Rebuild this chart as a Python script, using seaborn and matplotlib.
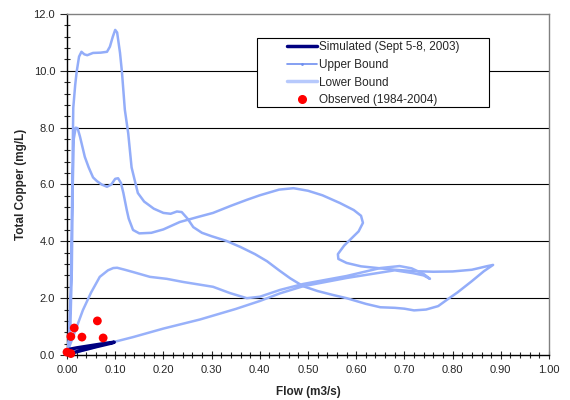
import numpy as np
import pandas as pd
import matplotlib
matplotlib.use("Agg")
import matplotlib.pyplot as plt
import seaborn as sns
from matplotlib.lines import Line2D
from matplotlib.patches import Rectangle
from matplotlib.ticker import MultipleLocator, FormatStrFormatter

# -----------------------------
# Data
# -----------------------------
# Upper bound hysteresis loop (flow m3/s, copper mg/L)
upper_x = [0.0, 0.004, 0.008, 0.011, 0.013, 0.017, 0.020, 0.025, 0.030, 0.036, 0.042, 0.054,
           0.070, 0.083, 0.089, 0.095, 0.100, 0.104, 0.110, 0.114, 0.120, 0.127, 0.134, 0.147,
           0.160, 0.180, 0.200, 0.215, 0.228, 0.238, 0.250, 0.262, 0.280, 0.300, 0.330, 0.360,
           0.390, 0.415, 0.440, 0.463, 0.490, 0.520, 0.550, 0.580, 0.620, 0.650, 0.680, 0.700,
           0.720, 0.745, 0.770, 0.788, 0.810, 0.840, 0.865, 0.884, 0.870, 0.840, 0.800, 0.760,
           0.720, 0.680, 0.650, 0.610, 0.580, 0.563, 0.562, 0.575, 0.590, 0.605, 0.614, 0.610,
           0.595, 0.566, 0.530, 0.500, 0.470, 0.440, 0.400, 0.373, 0.340, 0.303, 0.270, 0.234,
           0.200, 0.175, 0.150, 0.137, 0.128, 0.124, 0.117, 0.112, 0.106, 0.100, 0.092, 0.083,
           0.072, 0.062, 0.054, 0.045, 0.037, 0.027, 0.022, 0.018, 0.014, 0.012, 0.010, 0.007,
           0.003, 0.0]
upper_y = [0.0, 0.6, 2.5, 6.0, 8.7, 9.5, 9.96, 10.5, 10.67, 10.58, 10.55, 10.63,
           10.64, 10.67, 10.85, 11.2, 11.44, 11.35, 10.63, 9.96, 8.63, 7.8, 6.6, 5.7,
           5.4, 5.15, 5.0, 4.97, 5.05, 5.03, 4.8, 4.5, 4.3, 4.18, 4.02, 3.8,
           3.55, 3.3, 2.98, 2.7, 2.42, 2.25, 2.12, 2.0, 1.8, 1.68, 1.66, 1.63,
           1.57, 1.6, 1.72, 1.94, 2.2, 2.6, 2.95, 3.17, 3.12, 3.0, 2.94, 2.93,
           2.95, 3.0, 3.05, 3.12, 3.24, 3.38, 3.55, 3.85, 4.1, 4.35, 4.65, 4.9,
           5.1, 5.35, 5.62, 5.78, 5.87, 5.82, 5.62, 5.46, 5.25, 5.0, 4.85, 4.68,
           4.42, 4.3, 4.28, 4.4, 4.8, 5.1, 5.7, 6.05, 6.22, 6.2, 6.0, 5.92,
           6.0, 6.12, 6.25, 6.6, 6.97, 7.68, 7.98, 8.0, 7.6, 6.0, 3.0, 1.0,
           0.2, 0.0]

# Lower bound hysteresis loop
lower_x = [0.0, 0.005, 0.015, 0.033, 0.050, 0.068, 0.085, 0.096, 0.104, 0.120, 0.137, 0.172,
           0.207, 0.241, 0.303, 0.338, 0.373, 0.400, 0.442, 0.490, 0.580, 0.650, 0.690, 0.715,
           0.740, 0.753, 0.740, 0.718, 0.680, 0.580, 0.490, 0.442, 0.400, 0.350, 0.276, 0.200,
           0.137, 0.100, 0.050, 0.010, 0.0]
lower_y = [0.0, 0.3, 0.75, 1.58, 2.2, 2.75, 2.98, 3.06, 3.07, 3.0, 2.92, 2.75,
           2.68, 2.57, 2.4, 2.18, 2.0, 2.05, 2.29, 2.5, 2.78, 3.06, 3.13, 3.05,
           2.85, 2.68, 2.8, 2.88, 2.98, 2.71, 2.42, 2.17, 1.9, 1.62, 1.25, 0.93,
           0.63, 0.47, 0.24, 0.06, 0.0]

# Simulated event (Sept 5-8, 2003)
sim_x = [0.0, 0.005, 0.020, 0.050, 0.080, 0.098, 0.090, 0.060, 0.030, 0.010, 0.003, 0.0]
sim_y = [0.05, 0.20, 0.25, 0.33, 0.41, 0.45, 0.41, 0.29, 0.16, 0.07, 0.03, 0.05]

# Observed (1984-2004)
obs_x = [0.0, 0.008, 0.008, 0.015, 0.031, 0.063, 0.075]
obs_y = [0.10, 0.05, 0.65, 0.95, 0.63, 1.20, 0.60]

# -----------------------------
# Plot
# -----------------------------
sns.set_style("white")
plt.rcParams["font.family"] = ["Liberation Sans", "DejaVu Sans"]

fig = plt.figure(figsize=(5.7, 4.0), dpi=100)
ax = fig.add_axes([67 / 570, 45 / 400, 482 / 570, 341 / 400])

up_df = pd.DataFrame({"flow": upper_x, "cu": upper_y})
lo_df = pd.DataFrame({"flow": lower_x, "cu": lower_y})
sim_df = pd.DataFrame({"flow": sim_x, "cu": sim_y})
obs_df = pd.DataFrame({"flow": obs_x, "cu": obs_y})

sns.lineplot(data=up_df, x="flow", y="cu", sort=False, estimator=None, ax=ax,
             color="#93adf9", lw=1.8, zorder=3)
sns.lineplot(data=lo_df, x="flow", y="cu", sort=False, estimator=None, ax=ax,
             color="#98b1fa", lw=1.8, zorder=3)
sns.lineplot(data=sim_df, x="flow", y="cu", sort=False, estimator=None, ax=ax,
             color="#000080", lw=2.5, zorder=4)
sns.scatterplot(data=obs_df, x="flow", y="cu", ax=ax, color="#ff0000", s=40,
                edgecolor="none", zorder=5, clip_on=False)

ax.set_xlim(0, 1.0)
ax.set_ylim(0, 12.0)

# horizontal gridlines
yt = np.arange(0, 12.01, 2.0)
for v in yt[1:-1]:
    ax.axhline(v, color="black", lw=0.8, zorder=1)

ax.xaxis.set_major_locator(MultipleLocator(0.1))
ax.xaxis.set_minor_locator(MultipleLocator(0.02))
ax.yaxis.set_major_locator(MultipleLocator(2.0))
ax.yaxis.set_minor_locator(MultipleLocator(0.4))
ax.xaxis.set_major_formatter(FormatStrFormatter("%.2f"))
ax.yaxis.set_major_formatter(FormatStrFormatter("%.1f"))

ax.tick_params(axis="x", which="major", direction="inout", length=6, width=0.8,
               labelsize=8, pad=4, bottom=True)
ax.tick_params(axis="x", which="minor", direction="inout", length=4, width=0.8, bottom=True)
ax.tick_params(axis="y", which="major", direction="out", length=5, width=0.8,
               labelsize=8, left=True)
ax.tick_params(axis="y", which="minor", direction="inout", length=4, width=0.8, left=True)

for side in ["left", "bottom"]:
    ax.spines[side].set_color("black")
    ax.spines[side].set_linewidth(1.0)
for side in ["top", "right"]:
    ax.spines[side].set_color("#808080")
    ax.spines[side].set_linewidth(1.0)

ax.set_xlabel("Flow (m3/s)", fontsize=8.5, fontweight="bold", labelpad=8)
ax.set_ylabel("Total Copper (mg/L)", fontsize=8.5, fontweight="bold", labelpad=5)

# legend box drawn separately (Excel-style wide padding)
ax.add_patch(Rectangle((190 / 482, (355 - 107) / 341), 232 / 482, 69 / 341,
                       transform=ax.transAxes, facecolor="white", edgecolor="black",
                       lw=0.8, zorder=6))

handles = [
    Line2D([], [], color="#000080", lw=2.5),
    Line2D([], [], color="#6f8ff0", lw=1.2, marker=".", markersize=2),
    Line2D([], [], color="#b7c9fc", lw=2.5),
    Line2D([], [], color="#ff0000", lw=0, marker="o", markersize=5.5),
]
labels = ["Simulated (Sept 5-8, 2003)", "Upper Bound", "Lower Bound", "Observed (1984-2004)"]
leg = ax.legend(handles, labels, loc="upper left", bbox_to_anchor=(220 / 482, (355 - 41.5) / 341),
                borderaxespad=0, borderpad=0, fontsize=8.5, frameon=False,
                handlelength=2.5, handletextpad=0.2, labelspacing=0.47)
leg.set_zorder(7)

fig.savefig("out.png", dpi=100)
